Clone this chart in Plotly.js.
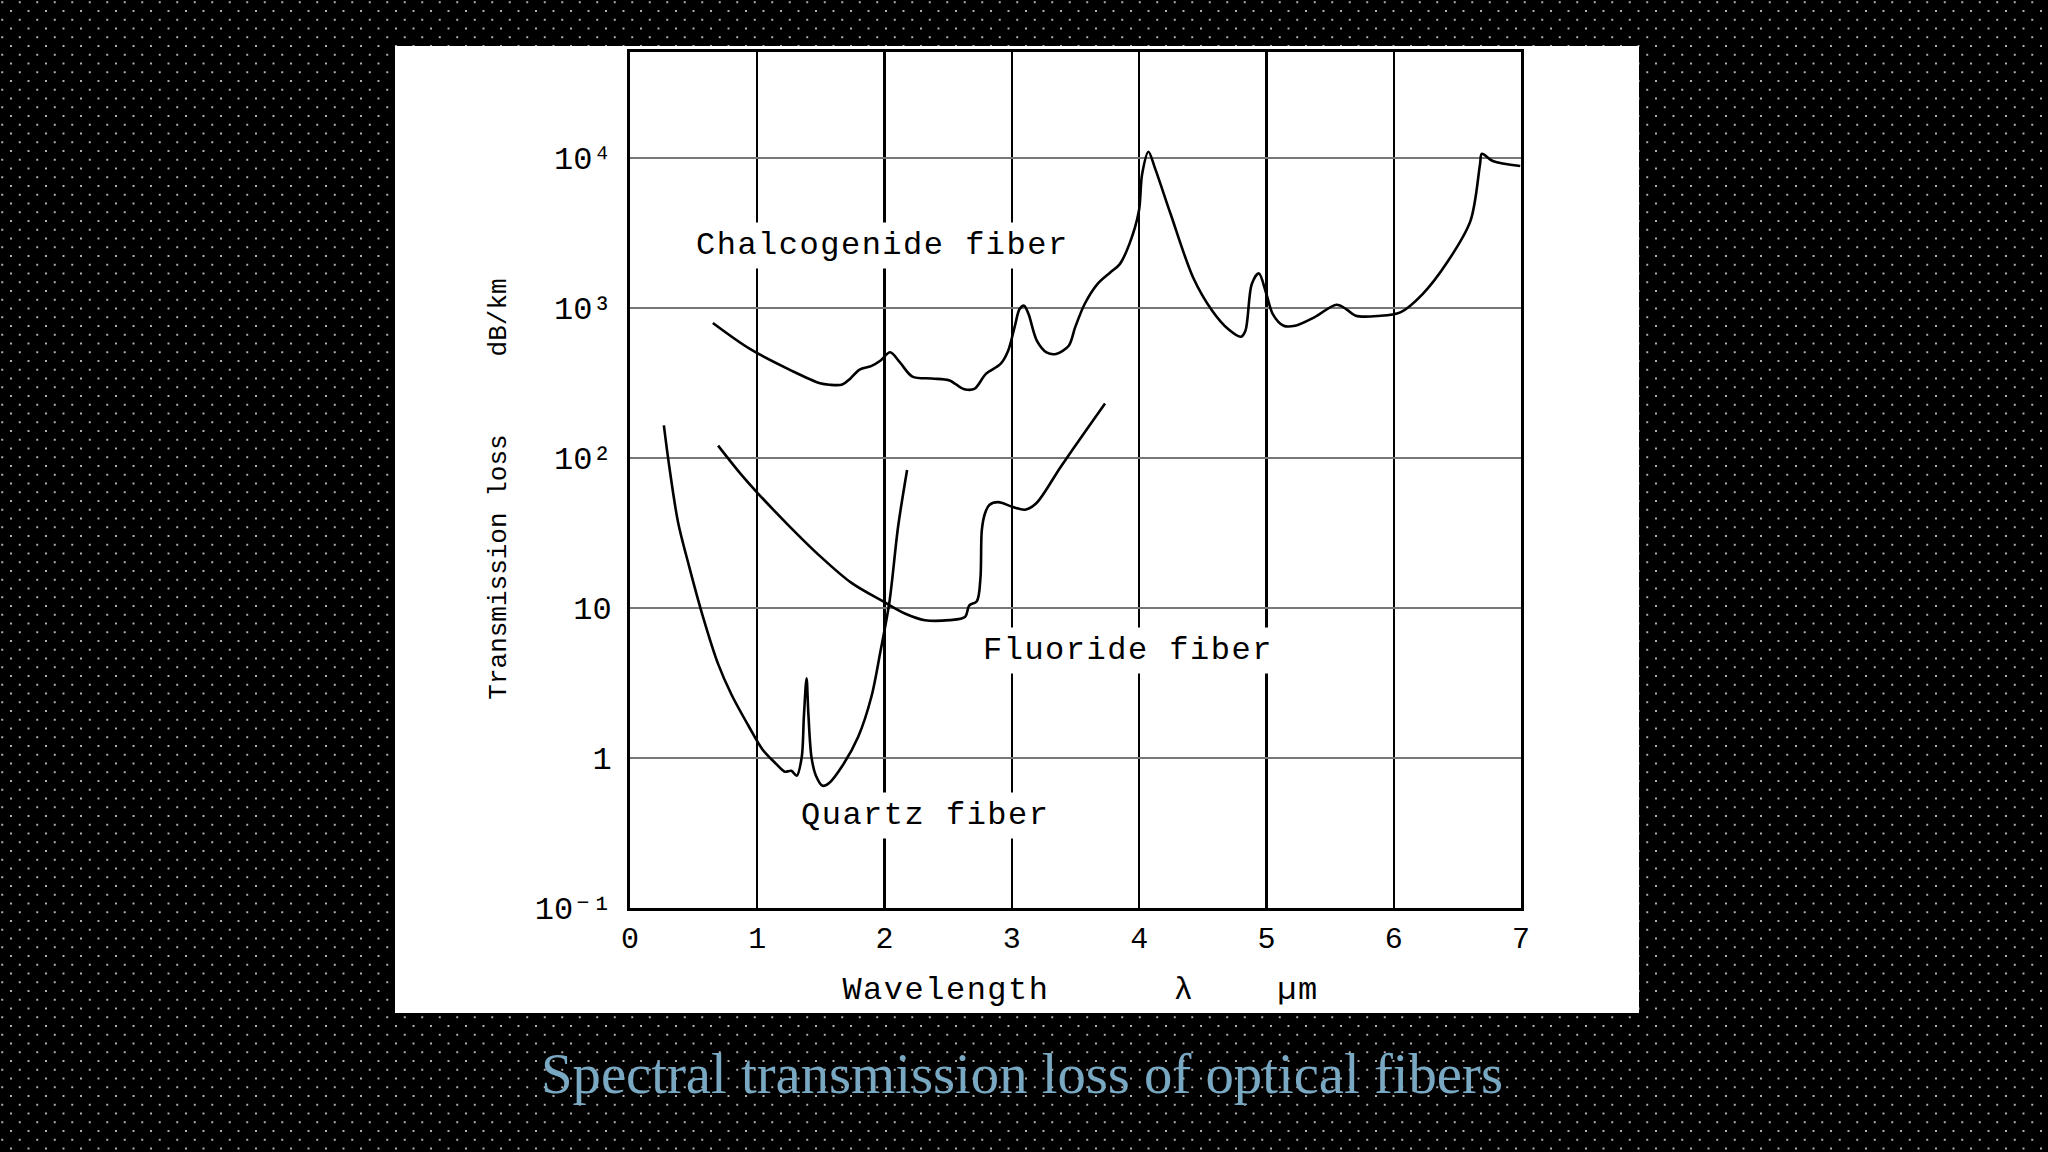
<!DOCTYPE html>
<html>
<head>
<meta charset="utf-8">
<script src="https://cdn.plot.ly/plotly-3.0.1.min.js"></script>
<style>
html,body{margin:0;padding:0;width:2048px;height:1152px;overflow:hidden;background-color:#000;}
body{
  background-image:radial-gradient(circle at center,#b4b4b4 0,#b4b4b4 0.7px,rgba(0,0,0,0) 1.4px),
                   radial-gradient(circle at center,#b4b4b4 0,#b4b4b4 0.7px,rgba(0,0,0,0) 1.4px);
  background-size:17.5px 17.5px;
  background-position:2.25px 2.25px,11px 11px;
}
#chart{width:2048px;height:1152px;}
.annotation-text{letter-spacing:1.5px;}
.xtitle{letter-spacing:1.5px;transform:translateX(5px);}
.g-ytitle{transform:translateY(9px);}
</style>
</head>
<body>
<div id="chart"></div>
<script>
const chalcogenideX=[0.651,0.942,1.268,1.493,1.568,1.668,1.728,1.804,1.894,1.969,2.044,2.119,2.219,2.370,2.510,2.620,2.705,2.796,2.911,2.971,3.021,3.061,3.096,3.131,3.196,3.272,3.347,3.447,3.497,3.572,3.672,3.773,3.848,3.923,3.998,4.023,4.073,4.123,4.248,4.424,4.574,4.699,4.800,4.835,4.885,4.940,5.000,5.050,5.135,5.225,5.376,5.551,5.626,5.701,5.877,6.052,6.227,6.428,6.603,6.678,6.693,6.778,6.994];
const chalcogenideLoss=[795,534,383,315,308,309,337,389,410,447,507,436,349,339,329,289,289,364,424,520,743,984,1037,912,607,507,494,561,743,1064,1445,1726,1963,2667,4436,7780,11020,8630,4217,1600,960,725,644,706,1445,1702,1239,912,762,762,867,1052,984,889,885,935,1239,2065,3811,9074,10690,9550,8843];
const fluorideX=[0.692,0.866,1.006,1.251,1.495,1.740,1.985,2.159,2.317,2.509,2.631,2.666,2.725,2.753,2.764,2.788,2.823,2.893,2.998,3.103,3.190,3.382,3.592,3.732];
const fluorideLoss=[121,79,58,35.2,22.1,14.7,11.1,9.2,8.3,8.3,8.7,10.4,11.1,15.7,33.1,42.5,48.7,50.8,47.5,45.2,49.7,86.9,157,231];
const quartzX=[0.266,0.307,0.377,0.465,0.570,0.692,0.797,0.936,1.041,1.146,1.216,1.268,1.310,1.349,1.366,1.387,1.401,1.426,1.461,1.513,1.565,1.670,1.792,1.897,1.967,2.037,2.107,2.177];
const quartzLoss=[165,89.7,37.5,18.9,8.94,4.24,2.65,1.61,1.14,0.918,0.811,0.822,0.762,1.01,1.88,3.40,2.0,1.01,0.762,0.653,0.682,0.891,1.38,2.57,5.11,10.8,35.2,83.2];
const xTicks=[0,1,2,3,4,5,6,7];
const yTicks=[0.1,1,10,100,1000,10000];
const yTickLabels=['10\u207b\u00b9','1','10','10\u00b2','10\u00b3','10\u2074'];
const chartTitle='Spectral transmission loss of optical fibers';
const xAxisTitle='Wavelength\u00a0\u00a0\u00a0\u00a0\u00a0\u00a0λ\u00a0\u00a0\u00a0\u00a0µm';
const yAxisTitle='Transmission loss\u00a0\u00a0\u00a0\u00a0\u00a0dB/km';
const mono='"Liberation Mono","DejaVu Sans Mono",monospace';
const curve=(name,x,y)=>({type:'scatter',mode:'lines',name,x,y,line:{color:'#000',width:2.6,shape:'spline',smoothing:0.9},hoverinfo:'x+y+name'});
const traces=[
  curve('Chalcogenide fiber',chalcogenideX,chalcogenideLoss),
  curve('Fluoride fiber',fluorideX,fluorideLoss),
  curve('Quartz fiber',quartzX,quartzLoss)
];
const label=(text,x,y)=>({text,x,y,xref:'x',yref:'y',showarrow:false,bgcolor:'#fff',borderpad:4,font:{family:mono,size:32,color:'#000'}});
const layout={
  width:2048,height:1152,showlegend:false,
  paper_bgcolor:'rgba(0,0,0,0)',plot_bgcolor:'rgba(0,0,0,0)',
  margin:{l:630,r:527,t:52,b:244,pad:0},
  title:{text:chartTitle,x:1022/2048,xanchor:'center',xref:'container',y:1-1073/1152,yanchor:'middle',yref:'container',font:{family:'"Liberation Serif",serif',size:56.7,color:'#79a8c2'}},
  xaxis:{range:[0,7],tickmode:'array',tickvals:xTicks,ticktext:xTicks.map(String),
    showgrid:true,gridcolor:'#000',gridwidth:2.2,zeroline:false,
    showline:true,linecolor:'#000',linewidth:3,mirror:true,ticks:'',ticklabelstandoff:1,
    tickfont:{family:mono,size:30,color:'#000'},
    title:{text:xAxisTitle,standoff:21,font:{family:mono,size:32,color:'#000'}}},
  yaxis:{type:'log',range:[-1,4.707],tickmode:'array',tickvals:yTicks,ticktext:yTickLabels,
    showgrid:true,gridcolor:'#777',gridwidth:1.6,zeroline:false,
    showline:true,linecolor:'#000',linewidth:3,mirror:true,ticks:'',ticklabelstandoff:9,
    tickfont:{family:mono,size:32,color:'#000'},
    title:{text:yAxisTitle,standoff:21,font:{family:mono,size:26,color:'#000'}}},
  shapes:[{type:'rect',xref:'paper',yref:'paper',layer:'below',x0:(395-630)/891,x1:(1639-630)/891,y0:(908-1013)/856,y1:(908-46)/856,fillcolor:'#fff',line:{width:0}}],
  annotations:[label('Chalcogenide fiber',1.987,3.417),label('Fluoride fiber',3.912,0.72),label('Quartz fiber',2.317,-0.38)]
};
Plotly.newPlot('chart',traces,layout,{displayModeBar:false,staticPlot:true});
</script>
</body>
</html>
